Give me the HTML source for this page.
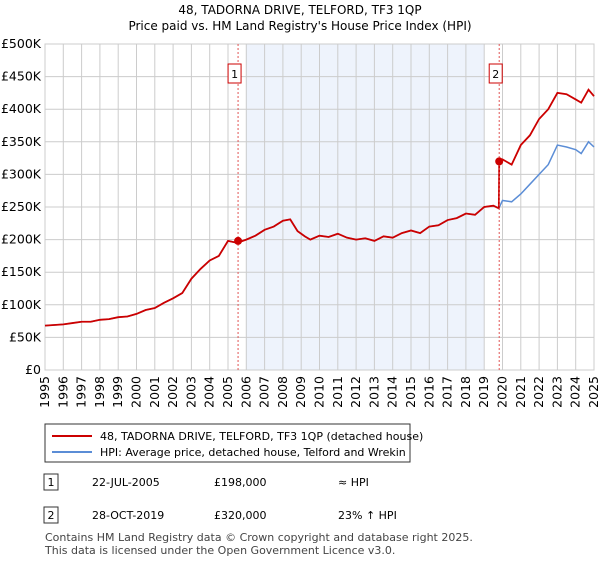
<!DOCTYPE html>
<html><head><meta charset="utf-8"><style>
body{margin:0;background:#fff;font-family:"Liberation Sans","DejaVu Sans",sans-serif;color:#222}
svg text{font-family:"DejaVu Sans","Liberation Sans",sans-serif}
</style></head><body>
<svg width="600" height="560" id="c">
<text x="300" y="14" text-anchor="middle" font-size="12">48, TADORNA DRIVE, TELFORD, TF3 1QP</text>
<text x="300" y="30" text-anchor="middle" font-size="12">Price paid vs. HM Land Registry's House Price Index (HPI)</text>
<g id="plot"></g>
<rect x="45" y="424" width="365" height="38" fill="#fff" stroke="#333"/>
<line x1="52" y1="436" x2="92" y2="436" stroke="#cc0000" stroke-width="2"/>
<text x="100" y="440" font-size="11">48, TADORNA DRIVE, TELFORD, TF3 1QP (detached house)</text>
<line x1="52" y1="452" x2="92" y2="452" stroke="#5b8dd6" stroke-width="2"/>
<text x="100" y="456" font-size="11">HPI: Average price, detached house, Telford and Wrekin</text>
<rect x="44" y="474" width="14" height="16" fill="#fff" stroke="#333"/>
<text x="51" y="486" font-size="11" text-anchor="middle">1</text>
<text x="92" y="486" font-size="11">22-JUL-2005</text>
<text x="214" y="486" font-size="11">£198,000</text>
<text x="338" y="486" font-size="11">≈ HPI</text>
<rect x="44" y="507" width="14" height="16" fill="#fff" stroke="#333"/>
<text x="51" y="519" font-size="11" text-anchor="middle">2</text>
<text x="92" y="519" font-size="11">28-OCT-2019</text>
<text x="214" y="519" font-size="11">£320,000</text>
<text x="338" y="519" font-size="11">23% ↑ HPI</text>
<text x="45" y="541" font-size="11" fill="#444">Contains HM Land Registry data © Crown copyright and database right 2025.</text>
<text x="45" y="554" font-size="11" fill="#444">This data is licensed under the Open Government Licence v3.0.</text>
</svg>
<script>
const hpiYears=[1995,1995.5,1996,1996.5,1997,1997.5,1998,1998.5,1999,1999.5,2000,2000.5,2001,2001.5,2002,2002.5,2003,2003.5,2004,2004.5,2005,2005.5,2006,2006.5,2007,2007.5,2008,2008.4,2008.8,2009.2,2009.5,2010,2010.5,2011,2011.5,2012,2012.5,2013,2013.5,2014,2014.5,2015,2015.5,2016,2016.5,2017,2017.5,2018,2018.5,2019,2019.5,2019.8,2020,2020.5,2021,2021.5,2022,2022.5,2023,2023.5,2024,2024.3,2024.7,2025];
const hpiValues=[68,69,70,72,74,74,77,78,81,82,86,92,95,103,110,118,140,155,168,175,198,195,200,206,215,220,229,231,213,205,200,206,204,209,203,200,202,198,205,203,210,214,210,220,222,230,233,240,238,250,252,248,260,258,270,285,300,315,345,342,338,332,350,342];
const redYears=[2019.82,2020,2020.5,2021,2021.5,2022,2022.5,2023,2023.5,2024,2024.3,2024.7,2025];
const redValues=[320,323,315,345,360,385,400,425,423,415,410,430,420];
const yTicks=[0,50,100,150,200,250,300,350,400,450,500];
const yTickLabels=["£0","£50K","£100K","£150K","£200K","£250K","£300K","£350K","£400K","£450K","£500K"];
const xTicks=[1995,1996,1997,1998,1999,2000,2001,2002,2003,2004,2005,2006,2007,2008,2009,2010,2011,2012,2013,2014,2015,2016,2017,2018,2019,2020,2021,2022,2023,2024,2025];
const sales=[{n:"1",year:2005.55,value:198},{n:"2",year:2019.82,value:320}];
const shade=[2006,2019];

const NS="http://www.w3.org/2000/svg";
const X0=45,X1=594,Y0=370,Y1=44;
const xs=y=>X0+(y-1995)/30*(X1-X0);
const ys=v=>Y0-v/500*(Y0-Y1);
const g=document.getElementById('plot');
function mk(t,a){const e=document.createElementNS(NS,t);for(const k in a)e.setAttribute(k,a[k]);g.appendChild(e);return e;}
const sh=mk('rect',{x:xs(shade[0]),y:Y1,width:xs(shade[1])-xs(shade[0]),height:Y0-Y1,fill:'#eef3fc'});


yTicks.forEach((t,i)=>{
 const l=mk('line',{x1:X0,x2:X1,y1:ys(t),y2:ys(t),stroke:'#ccc'});
 
 
 const tx=mk('text',{x:X0-4,y:ys(t)+4,'text-anchor':'end','font-size':'12.5'});
 
 
 tx.textContent=yTickLabels[i];
});
xTicks.forEach(t=>{
 const l=mk('line',{x1:xs(t),x2:xs(t),y1:Y1,y2:Y0,stroke:'#ccc'});
 
 
 const tx=mk('text',{x:0,y:0,'font-size':'12.5','text-anchor':'end',transform:`translate(${xs(t)+4},${Y0+6}) rotate(-90)`});
 
 
 tx.textContent=t;
});
const border=mk('rect',{x:X0,y:Y1,width:X1-X0,height:Y0-Y1,fill:'none',stroke:'#ccc'});


const hp=mk('polyline',{points:hpiYears.map((y,i)=>xs(y)+','+ys(hpiValues[i])).join(' '),fill:'none',stroke:'#5b8dd6','stroke-width':1.5});


const pre=[];hpiYears.forEach((y,i)=>{if(y<=redYears[0])pre.push([y,hpiValues[i]]);});
const rp=pre.concat(redYears.map((y,i)=>[y,redValues[i]]));
const rl=mk('polyline',{points:rp.map(p=>xs(p[0])+','+ys(p[1])).join(' '),fill:'none',stroke:'#cc0000','stroke-width':1.8});


sales.forEach(s=>{
 const l=mk('line',{x1:xs(s.year),x2:xs(s.year),y1:Y1,y2:Y0,stroke:'#e05555','stroke-dasharray':'2,2'});
 
 
 const d=mk('circle',{cx:xs(s.year),cy:ys(s.value),r:4,fill:'#cc0000'});
 
 
 const b=mk('rect',{x:xs(s.year)-10,y:64,width:13,height:19,fill:'#fff',stroke:'#cc0000'});
 
 
 const t=mk('text',{x:xs(s.year)-3.5,y:78,'text-anchor':'middle','font-size':'11'});
 
 
 t.textContent=s.n;
});
</script>
</body></html>
